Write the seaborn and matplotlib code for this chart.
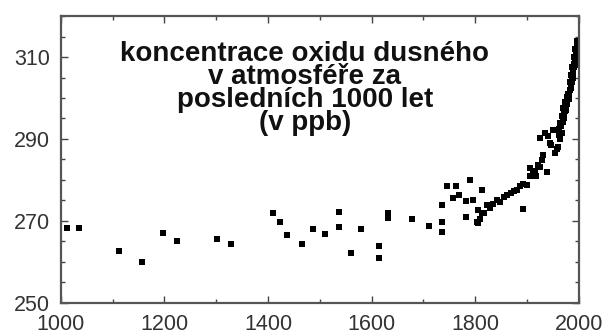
import numpy as np
import pandas as pd
import seaborn as sns
import matplotlib.pyplot as plt
from matplotlib.ticker import MultipleLocator

# N2O ice core / atmospheric data (year, ppb)
years = [1012, 1035, 1112, 1156, 1197, 1224, 1301, 1328, 1410, 1423, 1436,
         1465, 1487, 1510, 1537, 1537, 1561, 1579, 1614, 1614, 1632, 1632,
         1677, 1711, 1735, 1735, 1735, 1745, 1762, 1757, 1768, 1789, 1782,
         1795, 1782, 1813, 1803, 1813, 1805, 1805,
         1810, 1816, 1822, 1828, 1834, 1842, 1848, 1855, 1861, 1868, 1874,
         1880, 1886, 1893, 1900, 1905, 1911, 1918, 1925, 1928, 1938, 1892,
         1905, 1925, 1934, 1944, 1950, 1954, 1957, 1959, 1963, 1967, 1969,
         1972, 1974, 1976, 1978, 1980, 1981, 1983, 1984, 1986, 1987, 1988,
         1989, 1990, 1991, 1992, 1993, 1994, 1995, 1996, 1997, 1998,
         1962, 1966, 1971, 1975, 1979, 1985,
         1961, 1964, 1968, 1970, 1973, 1977, 1982, 1984, 1987, 1990, 1993,
         1996, 1988, 1992, 1995, 1998, 1999, 1930, 1940, 1946, 1915, 1921]
ppb = [268.3, 268.3, 262.7, 260.0, 267.1, 265.1, 265.6, 264.4, 271.9, 269.8, 266.6,
       264.4, 268.0, 266.8, 272.2, 268.5, 262.2, 268.0, 263.9, 261.0, 271.9, 270.7,
       270.5, 268.8, 269.8, 267.2, 273.8, 278.6, 278.6, 275.6, 276.3, 280.0, 274.8,
       275.1, 271.0, 277.6, 269.8, 271.9, 272.7, 269.5,
       270.4, 272.0, 273.9, 273.2, 274.2, 275.1, 274.6, 275.9, 276.3, 276.8, 277.3,
       277.6, 278.6, 279.0, 278.8, 280.9, 281.7, 281.0, 283.2, 284.9, 282.0, 272.9,
       283.0, 290.2, 291.5, 289.0, 292.2, 286.6, 287.6, 288.0, 290.0, 291.5, 294.1,
       295.2, 296.8, 297.5, 298.6, 299.8, 300.6, 301.9, 302.4, 304.0, 305.1, 305.6,
       306.6, 307.5, 308.2, 309.0, 309.8, 310.6, 311.2, 312.0, 312.6, 313.4,
       292.5, 293.2, 296.0, 297.0, 301.0, 303.2,
       291.0, 293.8, 295.5, 297.5, 299.0, 300.2, 303.8, 305.5, 307.5, 310.0, 312.0,
       313.8, 305.0, 308.0, 310.0, 311.5, 312.8, 286.0, 290.8, 288.5, 282.2, 283.6]

title_lines = ["koncentrace oxidu dusného", "v atmosféře za",
               "posledních 1000 let", "(v ppb)"]

df = pd.DataFrame({'year': years, 'ppb': ppb})

sns.set_style('ticks')
plt.rcParams['font.family'] = ['Liberation Sans', 'DejaVu Sans']

fig = plt.figure(figsize=(6.03, 3.34), dpi=100)
ax = fig.add_axes([0.101, 0.093, 0.859, 0.859])

sns.scatterplot(data=df, x='year', y='ppb', ax=ax, color='black',
                marker='s', s=20, linewidth=0, legend=False)

ax.set_xlim(1000, 2000)
ax.set_ylim(250, 320)
ax.set_xticks([1000, 1200, 1400, 1600, 1800, 2000])
ax.set_yticks([250, 270, 290, 310])
ax.xaxis.set_minor_locator(MultipleLocator(100))
ax.yaxis.set_minor_locator(MultipleLocator(5))
ax.tick_params(which='both', direction='in', top=True, right=True,
               color='#444444', width=1)
ax.tick_params(which='major', length=5, labelsize=15.5, labelcolor='#333333', pad=8)
ax.tick_params(which='minor', length=3)
ax.set_xlabel('')
ax.set_ylabel('')
for sp in ax.spines.values():
    sp.set_color('#555555')
    sp.set_linewidth(1.6)

# title block inside the plot
baselines = [61, 84, 107, 130]
for line, yb in zip(title_lines, baselines):
    fig.text(305 / 603, 1 - yb / 334, line, ha='center', va='baseline',
             fontsize=20, fontweight='bold', color='#111111')

fig.savefig('out.png', dpi=100)
